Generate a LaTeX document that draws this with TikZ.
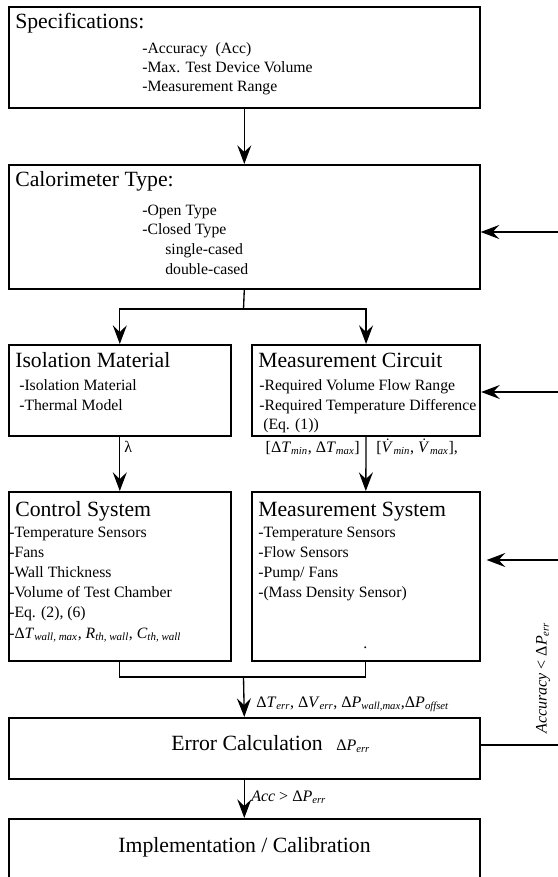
\documentclass[tikz,border=0pt]{standalone}
\usepackage{fontspec}
\setmainfont{Liberation Serif}
\usetikzlibrary{arrows.meta}

\newcommand{\sbi}[1]{\textsubscript{\itshape #1}}
\newcommand{\vdt}{\textit{\.V}\kern-0.15em}

\tikzset{
  box/.style 2 args={draw, line width=1.2pt, anchor=north west, inner sep=0pt,
    minimum width=#1*0.75pt, minimum height=#2*0.75pt},
  ttl/.style={font=\fontsize{16.3}{19}\selectfont, anchor=base west, inner sep=0pt},
  itm/.style={font=\fontsize{11.8}{14}\selectfont, anchor=base west, inner sep=0pt},
  lbl/.style={font=\fontsize{12}{14}\selectfont, inner sep=0pt},
  arr/.style={line width=1pt, -{Stealth[length=14pt, width=10.5pt, inset=5pt]}},
  ln/.style={line width=1pt}
}

\begin{document}
\begin{tikzpicture}[x=0.75pt, y=-0.75pt]
  \useasboundingbox (0,0) rectangle (557,877);
  % boxes
  \node[box={471}{101}] (spec) at (8,6) {};
  \node[box={471}{124}] (caltype) at (8,164) {};
  \node[box={222}{91}] (isomat) at (8,344) {};
  \node[box={228}{91}, line width=1.6pt] (meascirc) at (251,344) {};
  \node[box={222}{169}] (ctrlsys) at (8,491) {};
  \node[box={228}{169}] (meassys) at (251,491) {};
  \node[box={471}{61}] (errcalc) at (8,717) {};
  \node[box={471}{80}] (impl) at (8,818) {};

  % specifications
  \node[ttl] (spec-t) at (15,29) {Specifications:};
  \foreach \t [count=\i] in {-Accuracy\ \ (Acc), -Max. Test Device Volume, -Measurement Range}
    {\node[itm] (spec-\i) at (142, 35+19*\i) {\t};}
  % calorimeter type
  \node[ttl] (cal-t) at (15,187) {Calorimeter Type:};
  \foreach \t/\xo [count=\i] in {-Open Type/142, -Closed Type/142, single-cased/165, double-cased/165}
    {\node[itm] (cal-\i) at (\xo, 195.5+19.7*\i) {\t};}
  % isolation material / measurement circuit
  \node[ttl] (iso-t) at (15,367) {Isolation Material};
  \foreach \t [count=\i] in {-Isolation Material, -Thermal Model}
    {\node[itm] (iso-\i) at (19, 370+20*\i) {\t};}
  \node[ttl] (mc-t) at (258,367) {Measurement Circuit};
  \foreach \t [count=\i] in {-Required Volume Flow Range, -Required Temperature Difference}
    {\node[itm] (mc-\i) at (259, 370+20*\i) {\t};}
  \node[itm] (mc-3) at (263,429) {(Eq. (1))};
  % control system / measurement system
  \node[ttl] (ctrl-t) at (15,516) {Control System};
  \foreach \t [count=\i] in {-Temperature Sensors, -Fans, -Wall Thickness, -Volume of Test Chamber,
      {-Eq. (2), (6)}, {-Δ\textit{T}\sbi{wall, max}, \textit{R}\sbi{th, wall}, \textit{C}\sbi{th, wall}}}
    {\node[itm] (ctrl-\i) at (9, 516.8+20.2*\i) {\t};}
  \node[ttl] (ms-t) at (258,516) {Measurement System};
  \foreach \t [count=\i] in {-Temperature Sensors, -Flow Sensors, {-Pump/ Fans}, -(Mass Density Sensor)}
    {\node[itm] (ms-\i) at (258, 516.8+20.2*\i) {\t};}
  \node[itm] (ms-dot) at (363,648) {.};
  % error calculation / implementation
  \node[ttl] (err-t) at (171,750) {Error Calculation};
  \node[lbl, anchor=base west] (err-dp) at (336,750) {Δ\textit{P}\sbi{err}};
  \node[ttl, anchor=base] (impl-t) at (244.5,852) {Implementation / Calibration};

  % connectors
  \draw[arr] (spec.south) -- (caltype.north);
  \coordinate (split) at (243.5,309);
  \draw[ln] (caltype.south) -- (split);
  \draw[arr] (split) -| (isomat.north);
  \draw[arr] (split) -| (meascirc.north);
  \draw[arr] (isomat.south) -- (ctrlsys.north);
  \draw[arr] (meascirc.south) -- (meassys.north);
  \coordinate (join) at (243.5,677);
  \draw[ln] (ctrlsys.south) |- (join) -| (meassys.south);
  \draw[arr] (join) -- (errcalc.north);
  \draw[arr] (errcalc.south) -- (impl.north);
  \node[lbl, anchor=base west] (lam) at (124,452) {λ};
  \node[lbl, anchor=base east] (dtrange) at (360,452) {[Δ\textit{T}\sbi{min}, Δ\textit{T}\sbi{max}]};
  \node[lbl, anchor=base west] (vrange) at (376,452) {[\vdt\sbi{min}, \vdt\sbi{max}],};
  \node[lbl, anchor=base west] (errs) at (256,707)
       {Δ\textit{T}\sbi{err}, Δ\textit{V}\sbi{err}, Δ\textit{P}\sbi{wall,max},Δ\textit{P}\sbi{offset}};
  \node[lbl, anchor=base west] (accok) at (251,801) {\textit{Acc} > Δ\textit{P}\sbi{err}};

  % feedback
  \coordinate (fb-err) at (560,745);
  \coordinate (fb-cal) at (560,232);
  \coordinate (fb-mc) at (560,392);
  \coordinate (fb-ms) at (560,560);
  \draw[ln] (fb-err -| errcalc.east) -- (fb-err);
  \draw[arr] (fb-cal) -- (fb-cal -| caltype.east);
  \draw[arr] (fb-mc) -- (fb-mc -| meascirc.east);
  \draw[arr] (fb-ms) -- ([xshift=4.5pt]fb-ms -| meassys.east);
  \node[lbl, rotate=90] (accbad) at (543,678) {\textit{Accuracy} < Δ\textit{P}\sbi{err}};
\end{tikzpicture}
\end{document}
